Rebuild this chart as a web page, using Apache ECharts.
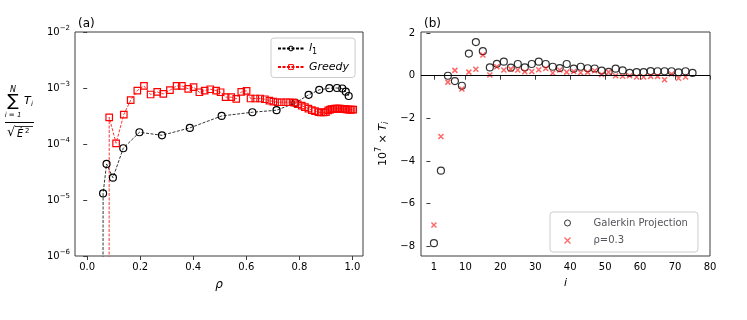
<!DOCTYPE html>
<html>
<head>
<meta charset="utf-8">
<script src="https://cdn.jsdelivr.net/npm/echarts@6/dist/echarts.min.js"></script>
</head>
<body style="margin:0;background:#fff;">
<div id="main" style="width:747px;height:320px;"></div>
<script>
// (a) l1 and Greedy versus rho
var l1X = [0.058, 0.060, 0.073, 0.097, 0.136, 0.197, 0.282, 0.387, 0.507, 0.623, 0.714, 0.785, 0.835, 0.875, 0.913, 0.942, 0.962, 0.975, 0.986];
var l1Y = [1e-12, 1.31e-5, 4.4e-5, 2.5e-5, 8.4e-5, 1.62e-4, 1.43e-4, 1.94e-4, 3.17e-4, 3.69e-4, 4.01e-4, 5.42e-4, 7.55e-4, 9.27e-4, 9.93e-4, 1.0e-3, 9.8e-4, 8.6e-4, 7.2e-4];
var greedyX = [0.082, 0.083, 0.109, 0.138, 0.164, 0.189, 0.214, 0.239, 0.264, 0.287, 0.312, 0.337, 0.357, 0.381, 0.401, 0.423, 0.443, 0.464, 0.486, 0.503, 0.522, 0.543, 0.562, 0.581, 0.601, 0.616, 0.634, 0.652, 0.670, 0.687, 0.702, 0.718, 0.733, 0.750, 0.765, 0.780, 0.794, 0.809, 0.821, 0.834, 0.847, 0.859, 0.872, 0.881, 0.891, 0.900, 0.909, 0.916, 0.922, 0.929, 0.935, 0.941, 0.947, 0.953, 0.960, 0.966, 0.972, 0.978, 0.985, 0.991, 0.997, 1.003];
var greedyY = [1e-12, 3.0e-4, 1.03e-4, 3.35e-4, 6.05e-4, 9.0e-4, 1.09e-3, 7.65e-4, 8.5e-4, 7.86e-4, 9.15e-4, 1.09e-3, 1.09e-3, 9.66e-4, 1.035e-3, 8.4e-4, 9.0e-4, 9.5e-4, 9.0e-4, 8.4e-4, 6.85e-4, 6.85e-4, 6.4e-4, 8.5e-4, 8.9e-4, 6.5e-4, 6.5e-4, 6.5e-4, 6.3e-4, 5.97e-4, 5.73e-4, 5.57e-4, 5.57e-4, 5.57e-4, 5.57e-4, 5.5e-4, 5.13e-4, 4.86e-4, 4.54e-4, 4.3e-4, 4.01e-4, 3.85e-4, 3.7e-4, 3.65e-4, 3.65e-4, 3.7e-4, 4.0e-4, 4.1e-4, 4.2e-4, 4.25e-4, 4.28e-4, 4.3e-4, 4.3e-4, 4.28e-4, 4.25e-4, 4.2e-4, 4.18e-4, 4.15e-4, 4.12e-4, 4.1e-4, 4.1e-4, 4.1e-4];
var rhoTicks = [0, 0.2, 0.4, 0.6, 0.8, 1.0];

// (b) 10^7 x T_i
var iVals = [1, 3, 5, 7, 9, 11, 13, 15, 17, 19, 21, 23, 25, 27, 29, 31, 33, 35, 37, 39, 41, 43, 45, 47, 49, 51, 53, 55, 57, 59, 61, 63, 65, 67, 69, 71, 73, 75];
var galerkin = [-7.85, -4.45, 0.0, -0.25, -0.47, 1.04, 1.58, 1.15, 0.39, 0.56, 0.66, 0.38, 0.55, 0.39, 0.55, 0.66, 0.55, 0.42, 0.36, 0.55, 0.33, 0.42, 0.35, 0.34, 0.24, 0.18, 0.33, 0.25, 0.13, 0.17, 0.17, 0.22, 0.21, 0.21, 0.21, 0.16, 0.21, 0.13];
var rho03 = [-7.0, -2.85, -0.3, 0.25, -0.62, 0.17, 0.3, 0.97, 0.03, 0.42, 0.27, 0.31, 0.27, 0.19, 0.2, 0.28, 0.34, 0.125, 0.27, 0.17, 0.2, 0.14, 0.17, 0.23, 0.06, 0.17, 0.0, -0.02, 0.0, -0.06, -0.06, -0.03, -0.03, -0.19, 0.08, -0.12, -0.06];
var iTicks = [1, 10, 20, 30, 40, 50, 60, 70, 80];
var tTicks = [-8, -6, -4, -2, 0, 2];

function pairs(xs, ys) {
	var out = [];
	for (var k = 0; k < ys.length; k++) out.push([xs[k], ys[k]]);
	return out;
}

var font = 'DejaVu Sans';
var spine = '#3c3c3c';
var crossPath = 'path://M0,0L10,10M10,0L0,10';
var hollow = 'rgba(255,255,255,0)';

option = {
	animation: false,
	textStyle: {fontFamily: font, color: '#000'},
	title: [
		{text: '(a)', left: 73, top: 13, textStyle: {fontSize: 12, fontWeight: 'normal', fontFamily: font, color: '#000'}},
		{text: '(b)', left: 419, top: 13, textStyle: {fontSize: 12, fontWeight: 'normal', fontFamily: font, color: '#000'}}
	],
	grid: [
		{left: 75, top: 32, width: 288, height: 224, show: true, borderColor: spine, borderWidth: 1, backgroundColor: 'transparent'},
		{left: 421, top: 32, width: 289, height: 224, show: true, borderColor: spine, borderWidth: 1, backgroundColor: 'transparent'}
	],
	legend: [
		{
			left: 271, top: 38, orient: 'vertical', itemWidth: 26, itemHeight: 6, itemGap: 6,
			padding: [5, 6, 5, 6], borderColor: '#ccc', borderWidth: 1, borderRadius: 3,
			data: [
				{name: 'l1', itemStyle: {color: hollow, borderColor: '#000', borderWidth: 1}},
				{name: 'Greedy', itemStyle: {color: hollow, borderColor: '#ff0000', borderWidth: 1}}
			],
			formatter: function (name) {
				return name === 'l1' ? '{i|l}{s|1}' : '{i|Greedy}';
			},
			textStyle: {
				fontSize: 10, fontFamily: font,
				rich: {
					i: {fontStyle: 'italic', fontSize: 11, fontFamily: font},
					s: {fontSize: 8, fontFamily: font, verticalAlign: 'bottom', padding: [6, 0, 0, 0]}
				}
			}
		},
		{
			left: 550, top: 212, orient: 'vertical', itemWidth: 6, itemHeight: 6, itemGap: 7,
			padding: [6, 10, 6, 12], borderColor: '#ccc', borderWidth: 1, borderRadius: 3,
			data: [
				{name: 'Galerkin Projection', itemStyle: {color: hollow, borderColor: '#000', borderWidth: 1}},
				{name: 'ρ=0.3', itemStyle: {color: 'none', borderColor: 'rgba(255,0,0,0.75)', borderWidth: 1.3}}
			],
			textStyle: {fontSize: 10, fontFamily: font, padding: [0, 0, 0, 18]}
		}
	],
	xAxis: [
		{
			gridIndex: 0, type: 'value', min: -0.046, max: 1.04,
			splitLine: {show: false}, axisLine: {show: false},
			axisTick: {customValues: rhoTicks, length: 4, lineStyle: {color: spine}},
			axisLabel: {customValues: rhoTicks, color: '#000', fontSize: 10, margin: 6, formatter: function (v) { return v.toFixed(1); }},
			name: 'ρ', nameLocation: 'middle', nameGap: 23,
			nameTextStyle: {fontStyle: 'italic', fontSize: 12, fontFamily: font, color: '#000'}
		},
		{
			gridIndex: 1, type: 'value', min: -2.7, max: 80,
			splitLine: {show: false}, axisLine: {show: false},
			axisTick: {customValues: iTicks, length: 4, lineStyle: {color: spine}},
			axisLabel: {customValues: iTicks, color: '#000', fontSize: 10, margin: 6},
			name: 'i', nameLocation: 'middle', nameGap: 22,
			nameTextStyle: {fontStyle: 'italic', fontSize: 11, fontFamily: font, color: '#000'}
		}
	],
	yAxis: [
		{
			gridIndex: 0, type: 'log', logBase: 10, min: 1e-6, max: 1e-2,
			splitLine: {show: false}, axisLine: {show: false},
			axisTick: {length: 4, lineStyle: {color: spine}},
			minorTick: {show: false},
			axisLabel: {
				color: '#000', margin: 5,
				formatter: function (v) {
					var e = Math.round(Math.log(v) / Math.LN10);
					return '{b|10}{e|' + (e < 0 ? '\u2212' + (-e) : e) + '}';
				},
				rich: {
					b: {fontSize: 10, fontFamily: font, color: '#000'},
					e: {fontSize: 7, fontFamily: font, color: '#000', verticalAlign: 'top', padding: [0, 0, 7, 0]}
				}
			}
		},
		{
			gridIndex: 1, type: 'value', min: -8.45, max: 2.05,
			splitLine: {show: false}, axisLine: {show: false},
			axisTick: {customValues: tTicks, length: 4, lineStyle: {color: spine}},
			axisLabel: {customValues: tTicks, color: '#000', fontSize: 10, margin: 6, formatter: function (v) { return v < 0 ? '\u2212' + (-v) : String(v); }}
		}
	],
	series: [
		{
			name: 'l1', type: 'line', xAxisIndex: 0, yAxisIndex: 0,
			data: pairs(l1X, l1Y),
			symbol: 'circle', symbolSize: 7, showAllSymbol: true,
			lineStyle: {color: '#000', width: 0.8, type: [3, 1.5]},
			itemStyle: {color: hollow, borderColor: '#000', borderWidth: 1.2}
		},
		{
			name: 'Greedy', type: 'line', xAxisIndex: 0, yAxisIndex: 0,
			data: pairs(greedyX, greedyY),
			symbol: 'rect', symbolSize: 6.5, showAllSymbol: true,
			lineStyle: {color: '#ff0000', width: 0.8, type: [3, 1.5]},
			itemStyle: {color: hollow, borderColor: '#ff0000', borderWidth: 1.2}
		},
		{
			name: 'Galerkin Projection', type: 'scatter', xAxisIndex: 1, yAxisIndex: 1,
			data: pairs(iVals, galerkin),
			symbol: 'circle', symbolSize: 7,
			itemStyle: {color: hollow, borderColor: '#000', borderWidth: 1.2},
			markLine: {
				silent: true, symbol: ['none', 'none'], label: {show: false},
				lineStyle: {color: '#000', width: 1, type: 'solid'},
				data: [{yAxis: 0}]
			}
		},
		{
			name: 'ρ=0.3', type: 'scatter', xAxisIndex: 1, yAxisIndex: 1,
			data: pairs(iVals, rho03),
			symbol: crossPath, symbolSize: 5,
			itemStyle: {color: 'none', borderColor: 'rgba(255,0,0,0.75)', borderWidth: 1.5}
		}
	],
	graphic: [
		// left y label: sum_{i=1}^N T_i / sqrt(Edot^2)
		{type: 'text', x: 13, y: 90, style: {text: 'N', fontSize: 8, fontStyle: 'italic', fontFamily: font, fill: '#000', align: 'center', verticalAlign: 'middle'}},
		{type: 'text', x: 13, y: 102, style: {text: '\u2211', fontSize: 17, fontFamily: font, fill: '#000', align: 'center', verticalAlign: 'middle'}},
		{type: 'text', x: 13, y: 115, style: {text: 'i = 1', fontSize: 7, fontStyle: 'italic', fontFamily: font, fill: '#000', align: 'center', verticalAlign: 'middle'}},
		{type: 'text', x: 24, y: 101, style: {text: 'T', fontSize: 11, fontStyle: 'italic', fontFamily: font, fill: '#000', align: 'left', verticalAlign: 'middle'}},
		{type: 'text', x: 31, y: 104, style: {text: 'i', fontSize: 7, fontStyle: 'italic', fontFamily: font, fill: '#000', align: 'left', verticalAlign: 'middle'}},
		{type: 'line', shape: {x1: 5, y1: 122.5, x2: 34, y2: 122.5}, style: {stroke: '#000', lineWidth: 1}},
		{type: 'text', x: 7, y: 133, style: {text: '\u221a', fontSize: 13, fontFamily: font, fill: '#000', align: 'left', verticalAlign: 'middle'}},
		{type: 'line', shape: {x1: 15, y1: 126.5, x2: 33, y2: 126.5}, style: {stroke: '#000', lineWidth: 0.8}},
		{type: 'text', x: 17, y: 134, style: {text: '\u0116', fontSize: 10, fontStyle: 'italic', fontFamily: font, fill: '#000', align: 'left', verticalAlign: 'middle'}},
		{type: 'text', x: 25, y: 131, style: {text: '2', fontSize: 7, fontFamily: font, fill: '#000', align: 'left', verticalAlign: 'middle'}},
		// right y label: 10^7 x T_i
		{
			type: 'text', x: 383, y: 144, rotation: Math.PI / 2,
			style: {
				text: '{n|10}{e|7}{n| \u00d7 }{t|T}{s|i}',
				align: 'center', verticalAlign: 'middle', fill: '#000',
				rich: {
					n: {fontSize: 11, fontFamily: font, fill: '#000'},
					e: {fontSize: 8, fontFamily: font, fill: '#000', padding: [0, 0, 8, 0]},
					t: {fontSize: 11, fontStyle: 'italic', fontFamily: font, fill: '#000'},
					s: {fontSize: 8, fontStyle: 'italic', fontFamily: font, fill: '#000', padding: [5, 0, 0, 0]}
				}
			}
		}
	]
};

var myChart = echarts.init(document.getElementById('main'));
myChart.setOption(option, true);
</script>
</body>
</html>
